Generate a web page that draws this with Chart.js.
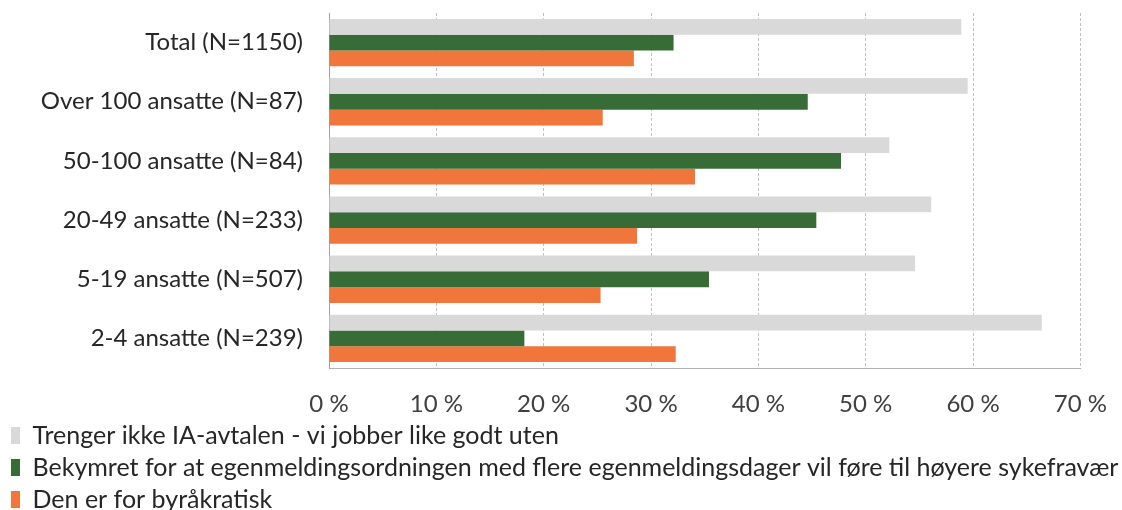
<!DOCTYPE html>
<html>
<head>
<meta charset="utf-8">
<script src="https://cdn.jsdelivr.net/npm/chart.js@4"></script>
<style>
  html, body { margin: 0; padding: 0; background: #fff; }
  #wrap { width: 1122px; height: 510px; }
</style>
</head>
<body>
<div id="wrap"><canvas id="chart"></canvas></div>
<script>
// kategorier, ovenfra og ned
const categories = ['Total (N=1150)', 'Over 100 ansatte (N=87)', '50-100 ansatte (N=84)',
  '20-49 ansatte (N=233)', '5-19 ansatte (N=507)', '2-4 ansatte (N=239)']

const seriesNames = ['Trenger ikke IA-avtalen - vi jobber like godt uten',
  'Bekymret for at egenmeldingsordningen med flere egenmeldingsdager vil føre til høyere sykefravær',
  'Den er for byråkratisk']

// prosent
const trengerIkke = [58.9, 59.5, 52.2, 56.1, 54.6, 66.4]
const bekymret = [32.1, 44.6, 47.7, 45.4, 35.4, 18.2]
const byrakratisk = [28.4, 25.5, 34.1, 28.7, 25.3, 32.3]

const xTicks = [0, 10, 20, 30, 40, 50, 60, 70]

const colors = ['#d9d9d9', '#386c36', '#f0763b']
const font = 'Lato'

function drawChart() {
    const ctx = document.getElementById('chart')
    const values = [trengerIkke, bekymret, byrakratisk]

    let datasets = []
    for (let i = 0; i < values.length; i++)
        datasets.push({
            label: seriesNames[i],
            data: values[i],
            backgroundColor: colors[i],
            borderWidth: 0,
            categoryPercentage: 0.8,
            barPercentage: 1.0
        })

    new Chart(ctx, {
        type: 'bar',
        data: { labels: categories, datasets: datasets },
        options: {
            indexAxis: 'y',
            responsive: true,
            maintainAspectRatio: false,
            animation: false,
            layout: { padding: { top: 13, right: 0, left: 4, bottom: -12 } },
            scales: {
                x: {
                    min: 0,
                    max: 70,
                    afterBuildTicks: (axis) => { axis.ticks = xTicks.map(v => ({ value: v })) },
                    afterFit: (axis) => { axis.height = 48 },
                    grid: { color: '#c0c0c0', drawTicks: true, tickLength: 9, tickColor: 'transparent' },
                    border: { display: true, color: '#b0b0b0', dash: [3, 2] },
                    ticks: {
                        padding: 15,
                        color: '#404040',
                        font: { family: font, size: 24, lineHeight: 1 },
                        callback: (v) => v + '\u00a0%'
                    }
                },
                y: {
                    afterFit: (axis) => { axis.width = 325 },
                    grid: { color: 'transparent', drawTicks: true, tickLength: 26 },
                    border: { display: true, color: '#a0a0a0' },
                    ticks: {
                        padding: 0,
                        color: '#262626',
                        font: { family: font, size: 24, lineHeight: 1 }
                    }
                }
            },
            plugins: {
                tooltip: { enabled: false },
                legend: {
                    position: 'bottom',
                    align: 'start',
                    labels: {
                        boxWidth: 9,
                        boxHeight: 17,
                        padding: 7,
                        color: '#262626',
                        font: { family: font, size: 25 }
                    }
                }
            }
        }
    })
}

drawChart()
</script>
</body>
</html>
